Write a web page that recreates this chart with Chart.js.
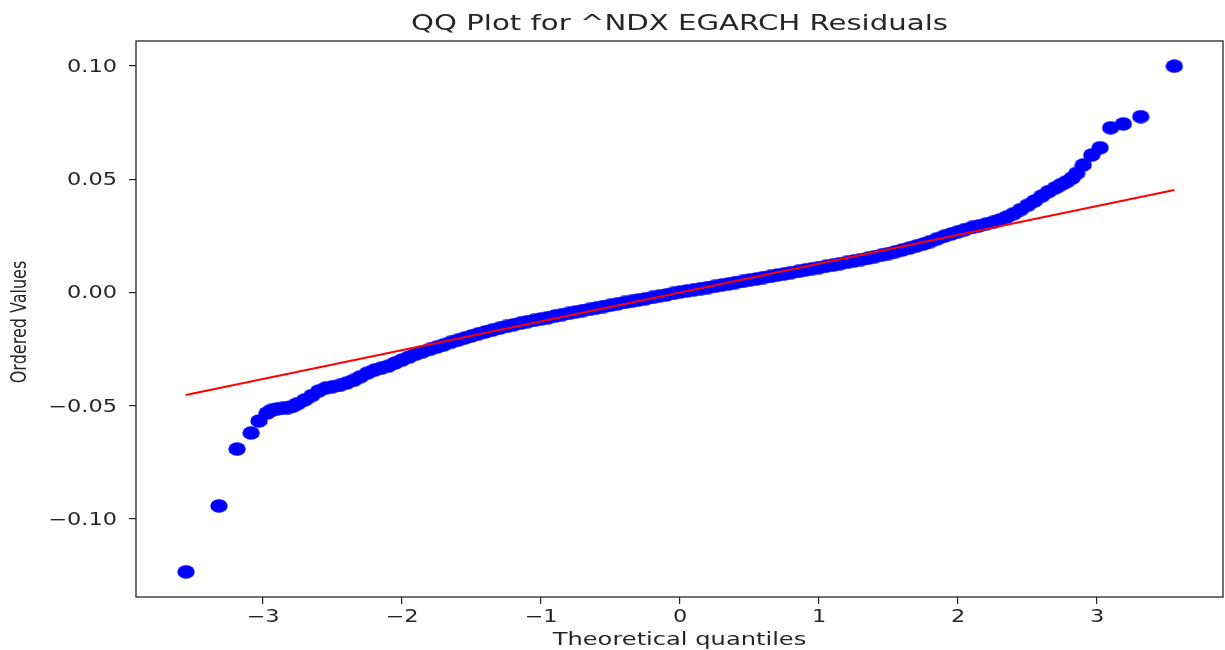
<!DOCTYPE html>
<html>
<head>
<meta charset="utf-8">
<script src="https://cdn.jsdelivr.net/npm/chart.js@4.4.1/dist/chart.umd.min.js"></script>
<style>
  html, body { margin: 0; padding: 0; background: #fff; }
  canvas { display: block; }
</style>
</head>
<body>
<canvas id="qq" width="1225" height="650"></canvas>
<script>
const chartTitle = "QQ Plot for ^NDX EGARCH Residuals";
const xLabel = "Theoretical quantiles";
const yLabel = "Ordered Values";

const xTicks = [-3, -2, -1, 0, 1, 2, 3];
const yTicks = [-0.10, -0.05, 0.00, 0.05, 0.10];

// theoretical quantiles and sorted residuals
const theoQ = [
  -3.554, -3.317, -3.187, -3.086, -3.029, -2.971, -2.94, -2.90, -2.86, -2.82, -2.79,
  -2.75, -2.70, -2.65, -2.60, -2.55, -2.50, -2.45, -2.40, -2.35, -2.30,
  -2.25, -2.20, -2.15, -2.10, -2.05, -2.00, -1.95, -1.90, -1.85, -1.80,
  -1.75, -1.70, -1.65, -1.60, -1.55, -1.50, -1.45, -1.40, -1.35, -1.30,
  -1.25, -1.20, -1.15, -1.10, -1.05, -1.00, -0.95, -0.90, -0.85, -0.80,
  -0.75, -0.70, -0.65, -0.60, -0.55, -0.50, -0.45, -0.40, -0.35, -0.30,
  -0.25, -0.20, -0.15, -0.10, -0.05, 0.00, 0.05, 0.10, 0.15, 0.20,
  0.25, 0.30, 0.35, 0.40, 0.45, 0.50, 0.55, 0.60, 0.65, 0.70,
  0.75, 0.80, 0.85, 0.90, 0.95, 1.00, 1.05, 1.10, 1.15, 1.20,
  1.25, 1.30, 1.35, 1.40, 1.45, 1.50, 1.55, 1.60, 1.65, 1.70,
  1.75, 1.80, 1.85, 1.90, 1.95, 2.00, 2.05, 2.10, 2.15, 2.20,
  2.25, 2.30, 2.35, 2.40, 2.45, 2.50, 2.55, 2.60, 2.65, 2.70,
  2.74, 2.78, 2.82, 2.853, 2.901, 2.962, 3.022, 3.098, 3.189, 3.314, 3.556
];
const ordered = [
  -0.1233, -0.0942, -0.0691, -0.0620, -0.0567, -0.0532, -0.0520, -0.0514, -0.0511, -0.0508, -0.0503,
  -0.0490, -0.0474, -0.0455, -0.0435, -0.0422, -0.0416, -0.0410, -0.0400, -0.0388, -0.0372,
  -0.0356, -0.0343, -0.0334, -0.0325, -0.0311, -0.0298, -0.0285, -0.0272, -0.0261, -0.0251,
  -0.0241, -0.0231, -0.0220, -0.0211, -0.0201, -0.0192, -0.0182, -0.0174, -0.0166, -0.0158,
  -0.0150, -0.0143, -0.0136, -0.0129, -0.0123, -0.0117, -0.0111, -0.0104, -0.0098, -0.0092,
  -0.0086, -0.0080, -0.0074, -0.0068, -0.0062, -0.0056, -0.0050, -0.0044, -0.0039, -0.0033,
  -0.0028, -0.0022, -0.0016, -0.0011, -0.0004, 0.0002, 0.0007, 0.0012, 0.0017, 0.0022,
  0.0027, 0.0033, 0.0038, 0.0044, 0.0049, 0.0055, 0.0060, 0.0066, 0.0071, 0.0077,
  0.0082, 0.0088, 0.0093, 0.0099, 0.0105, 0.0110, 0.0116, 0.0121, 0.0127, 0.0133,
  0.0139, 0.0145, 0.0151, 0.0158, 0.0165, 0.0172, 0.0180, 0.0188, 0.0196, 0.0205,
  0.0214, 0.0225, 0.0237, 0.0248, 0.0258, 0.0268, 0.0278, 0.0287, 0.0294, 0.0302,
  0.0310, 0.0320, 0.0333, 0.0348, 0.0366, 0.0385, 0.0404, 0.0425, 0.0445, 0.0462,
  0.0476, 0.0489, 0.0505, 0.0526, 0.0563, 0.0607, 0.0639, 0.0727, 0.0744, 0.0776, 0.0999
];

// least squares fit line, drawn between the outermost quantiles
const fitX = [-3.556, 3.556];
const fitY = [-0.0452, 0.0452];

const inkColor = "#262626";

// oval marker: the points come out wider than tall
function ovalMarker(w, h, color) {
  const c = document.createElement("canvas");
  c.width = w;
  c.height = h;
  const g = c.getContext("2d");
  g.fillStyle = color;
  g.beginPath();
  g.ellipse(w / 2, h / 2, w / 2 - 0.3, h / 2 - 0.3, 0, 0, Math.PI * 2);
  g.fill();
  return c;
}

function fmtMinus(s) {
  return s.replace("-", "\u2212");
}

// widened text, used for the title, axis labels and tick labels
function wideText(ctx, text, x, y, font, sx, sy, angle, align) {
  ctx.save();
  ctx.translate(x, y);
  if (angle) ctx.rotate(angle);
  ctx.scale(sx, sy);
  ctx.font = font;
  ctx.fillStyle = inkColor;
  ctx.textAlign = align || "center";
  ctx.textBaseline = "alphabetic";
  ctx.fillText(text, 0, 0);
  ctx.restore();
}

const framePlugin = {
  id: "frame",
  beforeDraw(chart) {
    const ctx = chart.ctx;
    ctx.save();
    ctx.fillStyle = "#fff";
    ctx.fillRect(0, 0, chart.width, chart.height);
    ctx.restore();
  },
  afterDraw(chart) {
    const ctx = chart.ctx;
    const a = chart.chartArea;
    const xs = chart.scales.x;
    const ys = chart.scales.y;
    ctx.save();
    ctx.strokeStyle = inkColor;
    ctx.lineWidth = 1.3;
    ctx.strokeRect(a.left, a.top, a.right - a.left, a.bottom - a.top);
    ctx.restore();

    const tickFont = "17px 'DejaVu Sans'";
    xTicks.forEach(v => {
      wideText(ctx, fmtMinus(String(v)), xs.getPixelForValue(v), 622, tickFont, 1.32, 1, 0, "center");
    });
    yTicks.forEach(v => {
      wideText(ctx, fmtMinus(v.toFixed(2)), 117, ys.getPixelForValue(v) + 6, tickFont, 1.32, 1, 0, "right");
    });

    const cx = (a.left + a.right) / 2;
    wideText(ctx, chartTitle, cx, 30, "21px 'DejaVu Sans'", 1.39, 1, 0);
    wideText(ctx, xLabel, cx, 645, "17px 'DejaVu Sans'", 1.42, 1, 0);
    // rotated label: the text height is stretched, not its length
    wideText(ctx, yLabel, 26, (a.top + a.bottom) / 2 + 3, "16px 'DejaVu Sans'", 1, 1.35, -Math.PI / 2);
  }
};

const points = theoQ.map((q, i) => ({ x: q, y: ordered[i] }));
const fitLine = fitX.map((q, i) => ({ x: q, y: fitY[i] }));

const ctx = document.getElementById("qq").getContext("2d");

const qqChart = new Chart(ctx, {
  type: "scatter",
  data: {
    datasets: [
      {
        label: "fit",
        type: "line",
        data: fitLine,
        borderColor: "#ff0000",
        borderWidth: 2,
        pointRadius: 0,
        fill: false,
        order: 0
      },
      {
        label: "residuals",
        data: points,
        pointStyle: ovalMarker(18, 14, "#0000ff"),
        pointRadius: 7,
        order: 1
      }
    ]
  },
  options: {
    responsive: false,
    animation: false,
    events: [],
    layout: {
      autoPadding: false,
      padding: { top: 41, right: 2, left: 0, bottom: 0 }
    },
    plugins: {
      legend: { display: false },
      title: { display: false },
      tooltip: { enabled: false }
    },
    scales: {
      x: {
        type: "linear",
        min: -3.914,
        max: 3.906,
        afterBuildTicks: (scale) => { scale.ticks = xTicks.map(v => ({ value: v })); },
        afterFit: (scale) => {
          scale.height = 53;
          scale.paddingLeft = 0;
          scale.paddingRight = 0;
        },
        border: { display: false },
        grid: {
          drawOnChartArea: false,
          drawTicks: true,
          tickLength: 7,
          color: inkColor,
          lineWidth: 1.2
        },
        ticks: { display: false }
      },
      y: {
        type: "linear",
        min: -0.1344,
        max: 0.111,
        afterBuildTicks: (scale) => { scale.ticks = yTicks.map(v => ({ value: v })); },
        afterFit: (scale) => {
          scale.width = 136;
          scale.paddingTop = 0;
          scale.paddingBottom = 0;
        },
        border: { display: false },
        grid: {
          drawOnChartArea: false,
          drawTicks: true,
          tickLength: 7,
          color: inkColor,
          lineWidth: 1.2
        },
        ticks: { display: false }
      }
    }
  },
  plugins: [framePlugin]
});
</script>
</body>
</html>
